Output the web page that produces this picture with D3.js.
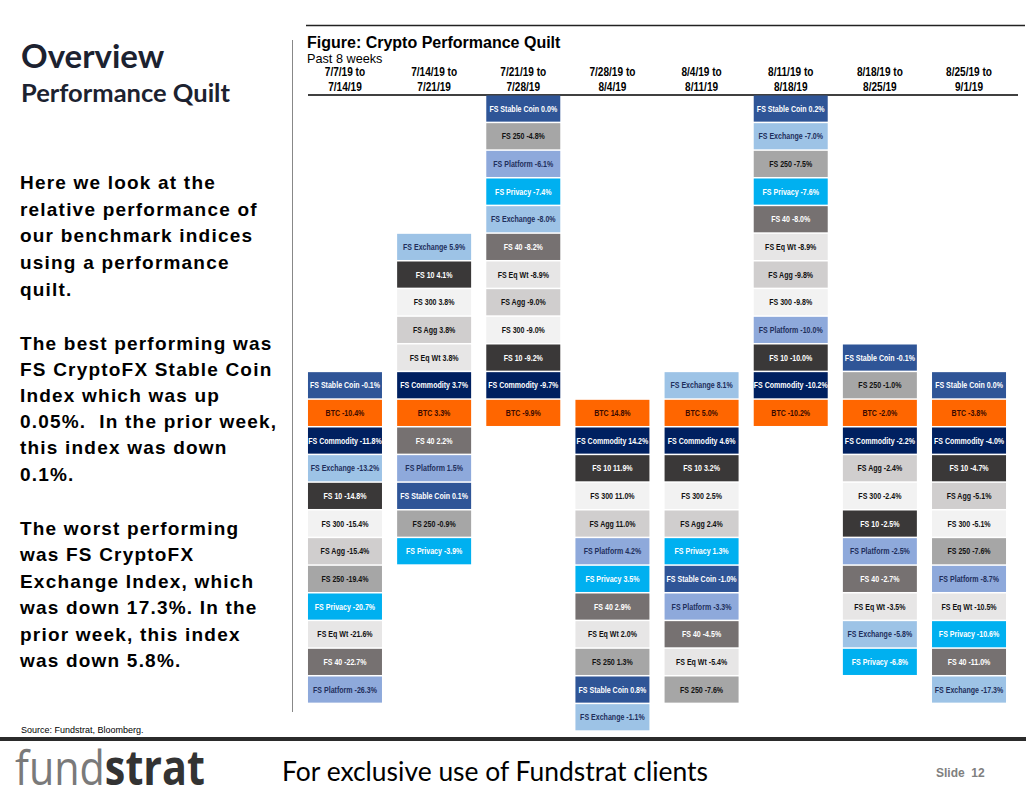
<!DOCTYPE html>
<html><head><meta charset="utf-8">
<script src="https://cdn.jsdelivr.net/npm/d3@7"></script>
<style>
html,body{margin:0;padding:0;background:#fff;}
svg{display:block;}
</style></head>
<body>
<svg id="c" width="1030" height="804"></svg>
<script>
const weekFrom = ["7/7/19 to","7/14/19 to","7/21/19 to","7/28/19 to","8/4/19 to","8/11/19 to","8/18/19 to","8/25/19 to"];
const weekTo = ["7/14/19","7/21/19","7/28/19","8/4/19","8/11/19","8/18/19","8/25/19","9/1/19"];

const indexNames = ["FS Stable Coin","FS 250","FS Platform","FS Privacy","FS Exchange","FS 40","FS Eq Wt","FS Agg","FS 300","FS 10","FS Commodity","BTC"];
const fillColors = ["#2F5597","#A6A6A6","#8EA9DB","#00B0F0","#9DC3E6","#767171","#E7E6E6","#D0CECE","#F2F2F2","#3A3838","#002060","#FF6600"];
const textColors = ["#ffffff","#111111","#1F2F5C","#ffffff","#1F2F5C","#ffffff","#111111","#111111","#111111","#ffffff","#ffffff","#3a0a00"];

const week1 = [["FS Stable Coin",-0.1],["BTC",-10.4],["FS Commodity",-11.8],["FS Exchange",-13.2],["FS 10",-14.8],["FS 300",-15.4],["FS Agg",-15.4],["FS 250",-19.4],["FS Privacy",-20.7],["FS Eq Wt",-21.6],["FS 40",-22.7],["FS Platform",-26.3]];
const week2 = [["FS Exchange",5.9],["FS 10",4.1],["FS 300",3.8],["FS Agg",3.8],["FS Eq Wt",3.8],["FS Commodity",3.7],["BTC",3.3],["FS 40",2.2],["FS Platform",1.5],["FS Stable Coin",0.1],["FS 250",-0.9],["FS Privacy",-3.9]];
const week3 = [["FS Stable Coin",0.0],["FS 250",-4.8],["FS Platform",-6.1],["FS Privacy",-7.4],["FS Exchange",-8.0],["FS 40",-8.2],["FS Eq Wt",-8.9],["FS Agg",-9.0],["FS 300",-9.0],["FS 10",-9.2],["FS Commodity",-9.7],["BTC",-9.9]];
const week4 = [["BTC",14.8],["FS Commodity",14.2],["FS 10",11.9],["FS 300",11.0],["FS Agg",11.0],["FS Platform",4.2],["FS Privacy",3.5],["FS 40",2.9],["FS Eq Wt",2.0],["FS 250",1.3],["FS Stable Coin",0.8],["FS Exchange",-1.1]];
const week5 = [["FS Exchange",8.1],["BTC",5.0],["FS Commodity",4.6],["FS 10",3.2],["FS 300",2.5],["FS Agg",2.4],["FS Privacy",1.3],["FS Stable Coin",-1.0],["FS Platform",-3.3],["FS 40",-4.5],["FS Eq Wt",-5.4],["FS 250",-7.6]];
const week6 = [["FS Stable Coin",0.2],["FS Exchange",-7.0],["FS 250",-7.5],["FS Privacy",-7.6],["FS 40",-8.0],["FS Eq Wt",-8.9],["FS Agg",-9.8],["FS 300",-9.8],["FS Platform",-10.0],["FS 10",-10.0],["FS Commodity",-10.2],["BTC",-10.2]];
const week7 = [["FS Stable Coin",-0.1],["FS 250",-1.0],["BTC",-2.0],["FS Commodity",-2.2],["FS Agg",-2.4],["FS 300",-2.4],["FS 10",-2.5],["FS Platform",-2.5],["FS 40",-2.7],["FS Eq Wt",-3.5],["FS Exchange",-5.8],["FS Privacy",-6.8]];
const week8 = [["FS Stable Coin",0.0],["BTC",-3.8],["FS Commodity",-4.0],["FS 10",-4.7],["FS Agg",-5.1],["FS 300",-5.1],["FS 250",-7.6],["FS Platform",-8.7],["FS Eq Wt",-10.5],["FS Privacy",-10.6],["FS 40",-11.0],["FS Exchange",-17.3]];
const weeks = [week1,week2,week3,week4,week5,week6,week7,week8];

const svg = d3.select("#c");
const fill = d3.scaleOrdinal().domain(indexNames).range(fillColors);
const tcol = d3.scaleOrdinal().domain(indexNames).range(textColors);
const SANS = "'Liberation Sans', Arial, sans-serif";

// Left panel
svg.append("text").attr("x",21).attr("y",68).text("Overview")
  .attr("font-family","Lato, 'Open Sans', sans-serif").attr("font-weight",700).attr("font-size",33).attr("fill","#1c2230");
svg.append("text").attr("x",21).attr("y",102).text("Performance Quilt")
  .attr("font-family","Lato, 'Open Sans', sans-serif").attr("font-weight",700).attr("font-size",25.5).attr("fill","#1c2230");

const bodyLines = [
 [189,"Here we look at the"],[216,"relative performance of"],[242,"our benchmark indices"],[269,"using a performance"],[296,"quilt."],
 [350,"The best performing was"],[376,"FS CryptoFX Stable Coin"],[402,"Index which was up"],[428,"0.05%.  In the prior week,"],[454,"this index was down"],[481,"0.1%."],
 [535,"The worst performing"],[561,"was FS CryptoFX"],[588,"Exchange Index, which"],[614,"was down 17.3%. In the"],[641,"prior week, this index"],[667,"was down 5.8%."]
];
svg.append("g").selectAll("text").data(bodyLines).join("text")
  .attr("x",20).attr("y",d=>d[0]).text(d=>d[1])
  .attr("font-family",SANS).attr("font-weight",700).attr("font-size",19).attr("letter-spacing",1.2).attr("fill","#000")
  .style("white-space","pre");

svg.append("text").attr("x",21).attr("y",733).text("Source: Fundstrat, Bloomberg.")
  .attr("font-family",SANS).attr("font-size",9).attr("fill","#000");

// frame lines
svg.append("line").attr("x1",306).attr("x2",1025).attr("y1",25.5).attr("y2",25.5).attr("stroke","#222").attr("stroke-width",1.5);
svg.append("line").attr("x1",292.5).attr("x2",292.5).attr("y1",40).attr("y2",712).attr("stroke","#888").attr("stroke-width",1);

svg.append("text").attr("x",307).attr("y",48).text("Figure: Crypto Performance Quilt")
  .attr("font-family",SANS).attr("font-weight",700).attr("font-size",16).attr("fill","#000");
svg.append("text").attr("x",307).attr("y",63).text("Past 8 weeks")
  .attr("font-family",SANS).attr("font-size",12.7).attr("fill","#000");

// scales
const x = d3.scaleBand().domain(d3.range(weeks.length)).range([300.4,1013.6]).paddingInner(0.17).paddingOuter(0.085);
const y = d3.scaleBand().domain(d3.range(23)).range([95.5,95.5+23*27.6]).paddingInner(0.055).paddingOuter(0);

// headers
const hdr = svg.append("g").attr("font-family",SANS).attr("font-weight",700).attr("font-size",12).attr("text-anchor","middle");
hdr.selectAll("text.a").data(weekFrom).join("text").attr("class","a")
  .attr("transform",(d,i)=>`translate(${x(i)+x.bandwidth()/2},76) scale(0.84,1)`).text(d=>d);
hdr.selectAll("text.b").data(weekTo).join("text").attr("class","b")
  .attr("transform",(d,i)=>`translate(${x(i)+x.bandwidth()/2},91) scale(0.84,1)`).text(d=>d);
svg.append("line").attr("x1",308).attr("x2",1018).attr("y1",95).attr("y2",95).attr("stroke","#000").attr("stroke-width",1.5);

// cells
const btcRow = 11;
const cells = [];
weeks.forEach((wk,wi)=>{
  const sorted = wk.slice().sort((a,b)=>b[1]-a[1]);
  const bi = sorted.findIndex(d=>d[0]==="BTC");
  sorted.forEach((d,i)=>cells.push({w:wi,row:btcRow-bi+i,name:d[0],v:d[1]}));
});
const fmt = d3.formatLocale({decimal:".",thousands:",",grouping:[3],currency:["$",""],minus:"-"}).format(".1f");
const g = svg.append("g");
g.selectAll("rect").data(cells).join("rect")
  .attr("x",d=>x(d.w)).attr("y",d=>y(d.row)).attr("width",x.bandwidth()).attr("height",y.bandwidth())
  .attr("fill",d=>fill(d.name));
g.selectAll("text").data(cells).join("text")
  .attr("transform",d=>`translate(${x(d.w)+x.bandwidth()/2},${y(d.row)+y.bandwidth()/2+3}) scale(0.82,1)`)
  .attr("text-anchor","middle")
  .attr("font-family",SANS).attr("font-weight",700).attr("font-size",8.6)
  .attr("fill",d=>tcol(d.name))
  .text(d=>d.name+" "+fmt(d.v)+"%");

// footer
svg.append("rect").attr("x",0).attr("y",737).attr("width",1026).attr("height",4).attr("fill","#2b2b2b");
const logo = svg.append("text").attr("x",15).attr("y",785).attr("textLength",190).attr("lengthAdjust","spacingAndGlyphs")
  .attr("font-family","'Open Sans',sans-serif").attr("font-size",48);
logo.append("tspan").attr("font-weight",400).attr("fill","#7a7a7a").text("fund");
logo.append("tspan").attr("font-weight",700).attr("fill","#333333").text("strat");
svg.append("text").attr("x",282).attr("y",781).text("For exclusive use of Fundstrat clients").attr("textLength",426).attr("lengthAdjust","spacingAndGlyphs")
  .attr("font-family","Lato, 'Open Sans', sans-serif").attr("font-size",26).attr("fill","#000");
svg.append("text").attr("x",936).attr("y",777).text("Slide  12").style("white-space","pre")
  .attr("font-family",SANS).attr("font-weight",700).attr("font-size",12).attr("fill","#808080");
</script>
</body></html>
